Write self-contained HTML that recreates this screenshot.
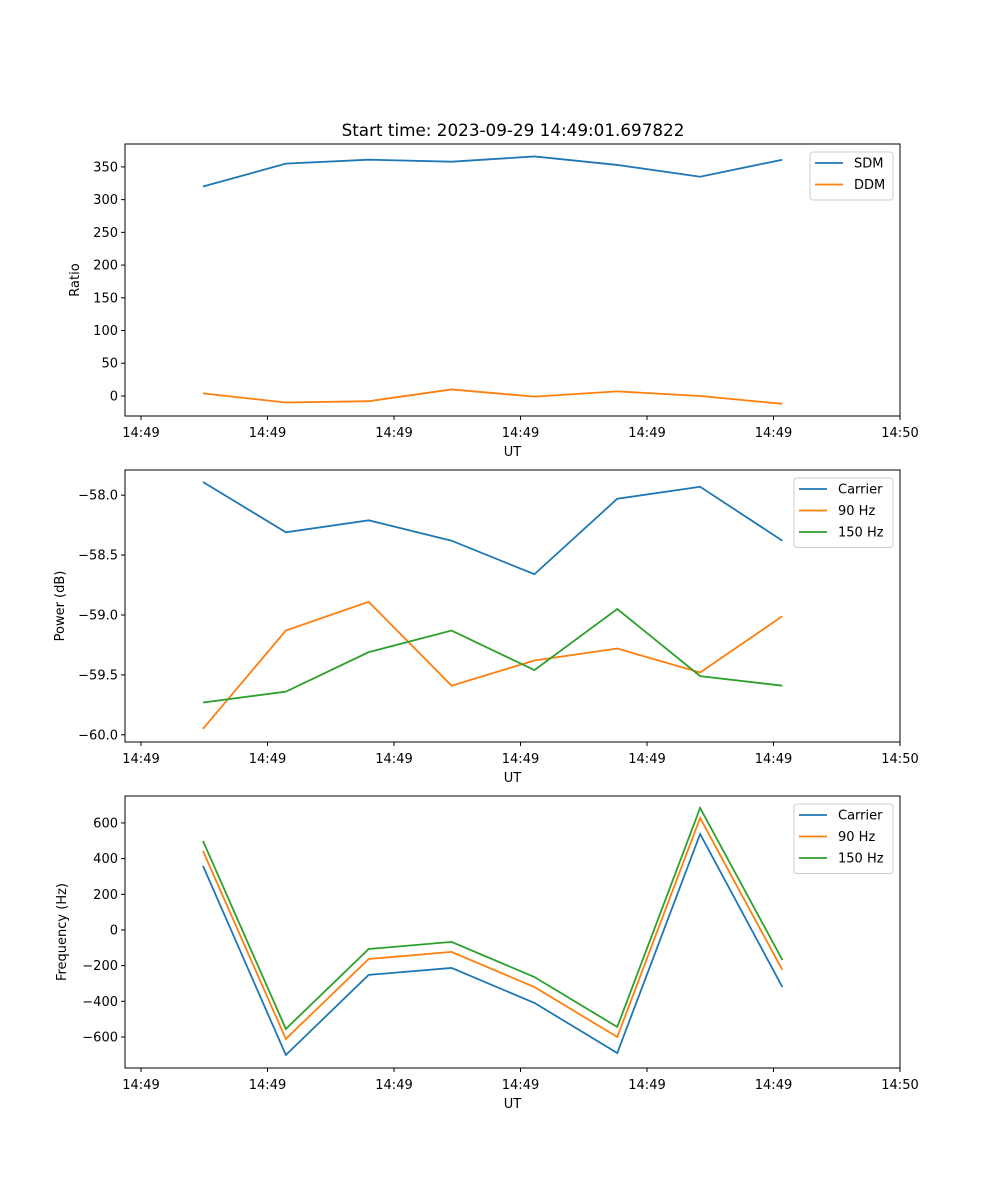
<!DOCTYPE html>
<html><head><meta charset="utf-8"><style>
body{margin:0;background:#fff}
svg{display:block;font-family:"DejaVu Sans","Liberation Sans",sans-serif}
</style></head><body>
<svg id="chart" width="1000" height="1200" viewBox="0 0 1000 1200">
<rect width="1000" height="1200" fill="#fff"/>
<text x="513" y="136" text-anchor="middle" font-size="16.8">Start time: 2023-09-29 14:49:01.697822</text>
</svg>
<script>
const xTicks = [0,1,2,3,4,5,6];
const xTickLabels = ["14:49","14:49","14:49","14:49","14:49","14:49","14:50"];
const times = [0.49,1.145,1.80,2.455,3.11,3.765,4.42,5.07];
const sdm = [320,355,361,358,366,353,335,361];
const ddm = [4,-10,-8,10,-1,7,0,-12];
const powCarrier = [-57.89,-58.31,-58.21,-58.38,-58.66,-58.03,-57.93,-58.38];
const pow90 = [-59.95,-59.13,-58.89,-59.59,-59.38,-59.28,-59.48,-59.01];
const pow150 = [-59.73,-59.64,-59.31,-59.13,-59.46,-58.95,-59.51,-59.59];
const freqCarrier = [359,-701,-252,-213,-409,-690,538,-320];
const freq90 = [443,-611,-163,-123,-320,-600,628,-224];
const freq150 = [499,-555,-107,-67,-264,-544,684,-168];
const yTicks1 = [0,50,100,150,200,250,300,350];
const yTicks2 = [-60.0,-59.5,-59.0,-58.5,-58.0];
const yTicks3 = [-600,-400,-200,0,200,400,600];

const svg = document.getElementById('chart');
const NS = 'http://www.w3.org/2000/svg';
function mk(tag, attrs, parent){const e=document.createElementNS(NS,tag);for(const k in attrs)e.setAttribute(k,attrs[k]);(parent||svg).appendChild(e);return e;}
const L=125,R=900;
const xS = v => 141 + 126.5*v;
const C = {b:'#1f77b4',o:'#ff7f0e',g:'#2ca02c'};

function panel(name, top, bot, ymin, ymax, yT, fmt, ylabel, ylx, series, legend){
  const yS = v => bot - (v-ymin)/(ymax-ymin)*(bot-top);
  const g = mk('g',{});
  
  
  series.forEach(s=>{
    const p = mk('polyline',{points:times.map((t,i)=>xS(t)+','+yS(s.v[i])).join(' '),fill:'none',stroke:s.c,'stroke-width':1.8},g);
    
    
  });
  const fr = mk('rect',{x:L,y:top,width:R-L,height:bot-top,fill:'none',stroke:'#000','stroke-width':1},g);
  
  
  xTicks.forEach((v,i)=>{
    const x=xS(v);
    mk('line',{x1:x,x2:x,y1:bot,y2:bot+4,stroke:'#000'},g);
    const t=mk('text',{x:x,y:bot+21,'text-anchor':'middle','font-size':13},g);
    t.textContent=xTickLabels[i];
    
    
  });
  yT.forEach(v=>{
    const y=yS(v);
    mk('line',{x1:L-4,x2:L,y1:y,y2:y,stroke:'#000'},g);
    const t=mk('text',{x:L-7,y:y+4.5,'text-anchor':'end','font-size':13},g);
    t.textContent=fmt(v);
    
    
  });
  const xl=mk('text',{x:(L+R)/2,y:bot+40,'text-anchor':'middle','font-size':13},g);
  xl.textContent='UT';
  
  
  const yl=mk('text',{x:ylx,y:(top+bot)/2,'text-anchor':'middle','font-size':13,transform:`rotate(-90 ${ylx} ${(top+bot)/2})`},g);
  yl.textContent=ylabel;
  
  
  const lg=mk('g',{},g);
  
  
  mk('rect',{x:legend.x,y:top+8,width:R-7-legend.x,height:series.length*21.5+5,rx:3,fill:'#fff',stroke:'#ccc','fill-opacity':0.8},lg);
  series.forEach((s,i)=>{
    const y=top+19+i*21.5;
    mk('line',{x1:legend.x+5,x2:legend.x+33,y1:y,y2:y,stroke:s.c,'stroke-width':1.8},lg);
    const t=mk('text',{x:legend.x+44,y:y+4.5,'font-size':13},lg);
    t.textContent=s.n;
    
    
  });
}
const m = (v,d) => (v<0?'\u2212':'')+Math.abs(v).toFixed(d);
panel('ratio',144,416,-30.6,385,yTicks1,v=>m(v,0),'Ratio',79,
  [{n:'SDM',v:sdm,c:C.b},{n:'DDM',v:ddm,c:C.o}],{x:810});
panel('power',470,742,-60.06,-57.79,yTicks2,v=>m(v,1),'Power (dB)',64,
  [{n:'Carrier',v:powCarrier,c:C.b},{n:'90 Hz',v:pow90,c:C.o},{n:'150 Hz',v:pow150,c:C.g}],{x:794});
panel('frequency',796,1068,-774,751,yTicks3,v=>m(v,0),'Frequency (Hz)',66,
  [{n:'Carrier',v:freqCarrier,c:C.b},{n:'90 Hz',v:freq90,c:C.o},{n:'150 Hz',v:freq150,c:C.g}],{x:794});
</script>
</body></html>
